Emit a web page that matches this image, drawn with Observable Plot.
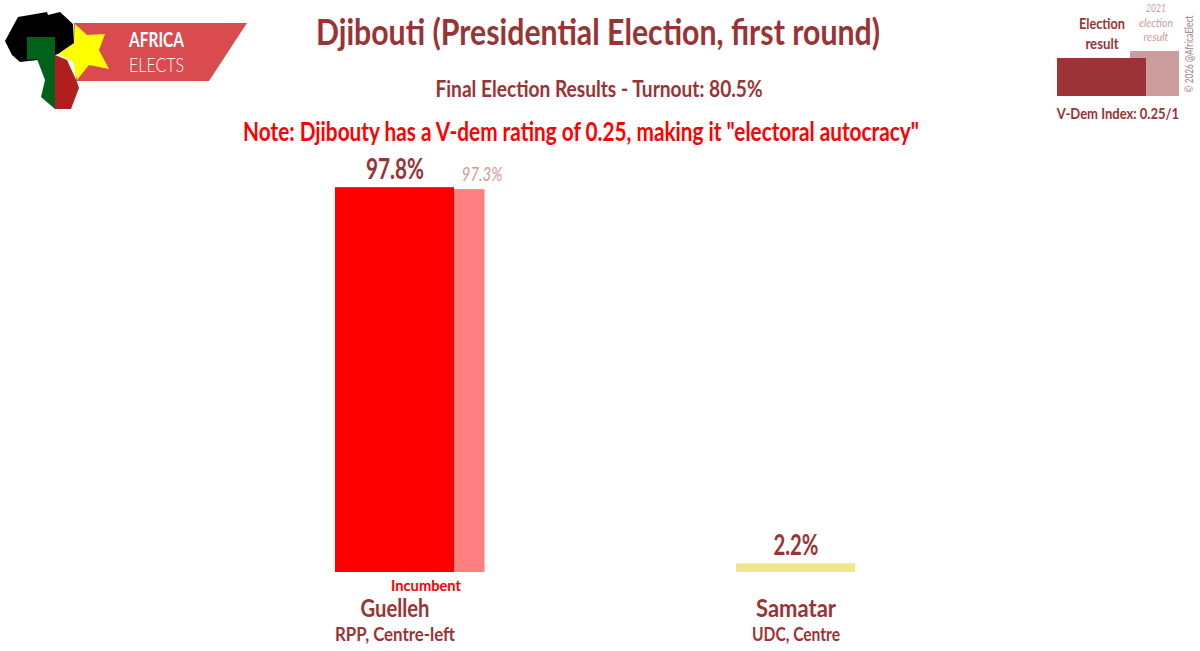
<!DOCTYPE html>
<html><head><meta charset="utf-8">
<script src="https://cdn.jsdelivr.net/npm/d3@7"></script>
<script src="https://cdn.jsdelivr.net/npm/@observablehq/plot@0.6"></script>
<style>
html,body{margin:0;background:#fff}
#root{position:relative;width:1200px;height:651px;overflow:hidden;font-family:"Lato",sans-serif;color:#9a3334}
#root svg{position:absolute;left:0;top:0}
.t{position:absolute;white-space:nowrap;line-height:1}
.k{position:absolute}
</style></head><body>
<div id="root"></div>
<script>
const candidates = ["Guelleh", "Samatar"];
const parties = ["RPP, Centre-left", "UDC, Centre"];
const results = [97.8, 2.2];
const labels = ["97.8%", "2.2%"];
const barColors = ["#ff0000", "#f0e68c"];
const prevCandidates = ["Guelleh"];
const prevResults = [97.3];
const prevLabels = ["97.3%"];
const prevColors = ["#ff8080"];

const current = candidates.map((c, i) => ({c, v: results[i], l: labels[i], f: barColors[i], p: parties[i]}));
const previous = prevCandidates.map((c, i) => ({c, v: prevResults[i], l: prevLabels[i], f: prevColors[i]}));
const text = "#9a3334";

const chart = Plot.plot({
  width: 1200, height: 651,
  marginLeft: 335, marginRight: 345, marginTop: 178.5, marginBottom: 79,
  x: {domain: candidates, paddingInner: 0.7032, paddingOuter: 0, round: false, axis: null},
  y: {domain: [0, 100], axis: null},
  style: {fontFamily: '"Lato",sans-serif', background: "transparent"},
  marks: [
    Plot.barY(previous, {x: "c", y: "v", fill: "f", dx: 30.5}),
    Plot.barY(current, {x: "c", y: "v", fill: "f"}),
    Plot.text(current, {x: "c", y: "v", text: "l", fill: text, fontSize: 28, fontWeight: "bold", lineAnchor: "bottom", dy: -9}),
    Plot.text(previous, {x: "c", y: "v", text: "l", fill: "#cd9c9c", fontSize: 20, fontStyle: "italic", lineAnchor: "bottom", dx: 87, dy: -9}),
    Plot.text(current, {x: "c", y: 0, text: "c", fill: text, fontSize: 25, fontWeight: "bold", dy: 36}),
    Plot.text(current, {x: "c", y: 0, text: "p", fill: text, fontSize: 19, fontWeight: "bold", dy: 62}),
    Plot.text(["Incumbent"], {x: () => "Guelleh", y: () => 0, text: d => d, fill: "#ff0000", fontSize: 16, fontWeight: "bold", dx: 31, dy: 13})
  ]
});
const root = document.getElementById("root");
root.appendChild(chart);

// The reference face is condensed: fit each label to its measured width.
const fitWidths = new Map([
  ["97.8%", 58], ["2.2%", 45], ["97.3%", 41], ["Guelleh", 69], ["Samatar", 80],
  ["RPP, Centre-left", 120], ["UDC, Centre", 88], ["Incumbent", 70]
]);
chart.querySelectorAll("text").forEach(t => {
  const w = fitWidths.get(t.textContent);
  if (w) { t.setAttribute("textLength", w); t.setAttribute("lengthAdjust", "spacingAndGlyphs"); }
});

function addText(s, x, y, size, width, opts = {}) {
  const d = document.createElement("div");
  d.className = "t"; d.textContent = s;
  d.style.left = x + "px"; d.style.top = y + "px"; d.style.fontSize = size + "px";
  d.style.fontWeight = opts.weight || "bold";
  if (opts.color) d.style.color = opts.color;
  if (opts.style) d.style.fontStyle = opts.style;
  root.appendChild(d);
  const sx = width / d.offsetWidth;
  d.style.transform = `translate(-50%,-50%) ${opts.rotate ? `rotate(${opts.rotate}deg) ` : ""}scaleX(${sx})`;
}
addText("Djibouti (Presidential Election, first round)", 598, 30, 37, 564);
addText("Final Election Results - Turnout: 80.5%", 598.5, 88, 23, 327);
addText('Note: Djibouty has a V-dem rating of 0.25, making it "electoral autocracy"', 581, 131, 26, 676, {color: "#ff0000"});

function addKey(x, y, w, h, c) {
  const d = document.createElement("div");
  d.className = "k";
  d.style.cssText += `left:${x}px;top:${y}px;width:${w}px;height:${h}px;background:${c}`;
  root.appendChild(d);
}
addKey(1130, 51, 49, 45, "#cd9c9c");
addKey(1057, 58, 89, 38, "#9b3436");
addText("Election", 1102, 23, 16, 46);
addText("result", 1102, 43, 16, 33);
const light = {color: "#cd9c9c", style: "italic", weight: "normal"};
addText("2021", 1156, 8, 12, 20, light);
addText("election", 1156, 23, 12, 34, light);
addText("result", 1156, 37, 12, 25, light);
addText("V-Dem Index: 0.25/1", 1118, 113, 16, 122);
addText("© 2026 @AfricaElect", 1188, 54, 11, 77, {rotate: -90, color: "#a08080", weight: "normal"});

const ns = "http://www.w3.org/2000/svg";
const logo = document.createElementNS(ns, "svg");
logo.setAttribute("width", 260); logo.setAttribute("height", 120);
logo.innerHTML = `
<polygon points="74,23 247,23 209,81 76,81" fill="#d94b4e"/>
<polygon points="75,24 87,35 105,34 99,50 109,69 89,65 77,80 73,62 58,54 74,43" fill="#ffff00"/>
<polygon points="5,41 18,17 47,12 48,15 60,12 73,24 74,43 58,54 38,60 20,62 12,55" fill="#000"/>
<polygon points="27,37 55,37 55,109 41,97 45,80 37,59 27,60" fill="#006119"/>
<polygon points="55,55 67,60 77,82 79,88 71,109 55,109" fill="#b01e1e"/>
<text x="129" y="47" font-size="20" font-weight="bold" fill="#fff" font-family="Lato,sans-serif" textLength="55" lengthAdjust="spacingAndGlyphs">AFRICA</text>
<text x="129" y="72" font-size="20" fill="#fff" font-family="Lato,sans-serif" font-weight="300" textLength="55" lengthAdjust="spacingAndGlyphs">ELECTS</text>`;
root.appendChild(logo);
</script>
</body></html>
